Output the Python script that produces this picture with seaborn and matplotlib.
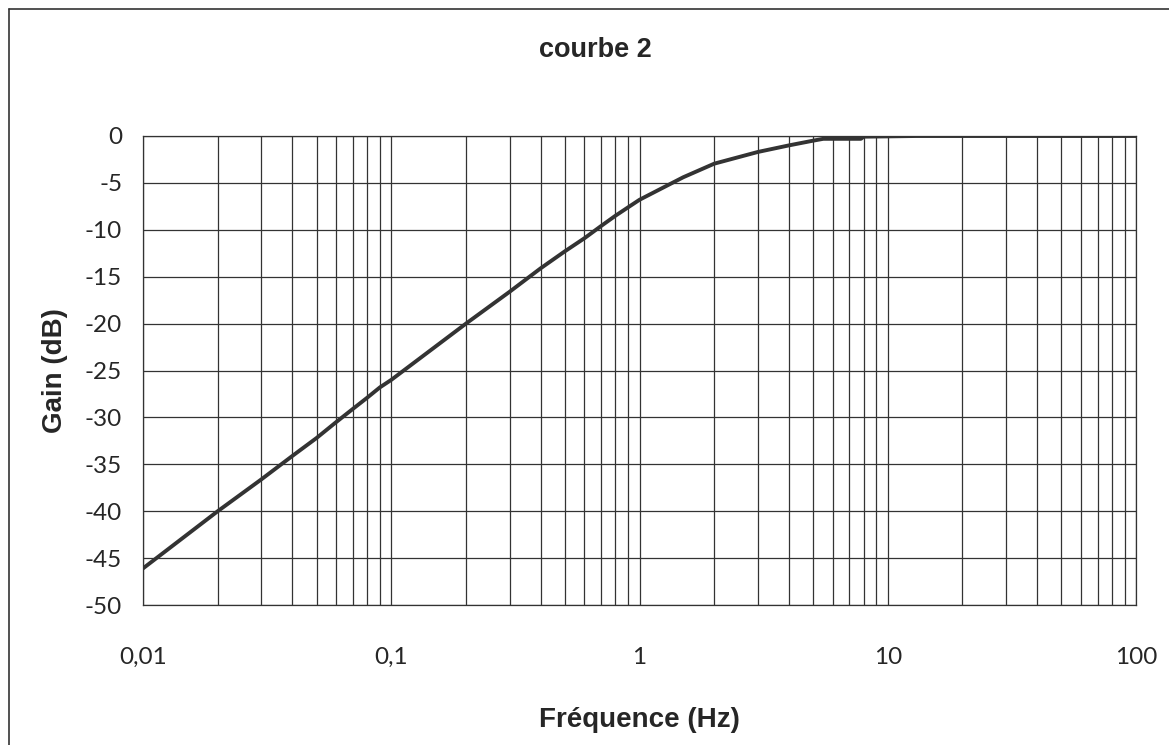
import matplotlib
matplotlib.use("Agg")
import matplotlib.pyplot as plt
from matplotlib.lines import Line2D
from matplotlib.ticker import FixedLocator, LogLocator, NullFormatter
import pandas as pd
import seaborn as sns

frequence = [0.01, 0.02, 0.03, 0.04, 0.05, 0.06, 0.07, 0.08, 0.09,
             0.1, 0.2, 0.3, 0.4, 0.5, 0.6, 0.7, 0.8, 0.9,
             1, 1.5, 2, 3, 4, 5, 5.5, 7.8, 8, 10, 13, 20, 50, 100]
gain = [-46.1, -40.0, -36.6, -34.1, -32.2, -30.5, -29.1, -27.9, -26.8,
        -26.0, -20.0, -16.6, -14.1, -12.3, -10.9, -9.6, -8.5, -7.6,
        -6.8, -4.4, -2.95, -1.7, -1.0, -0.5, -0.3, -0.3, -0.07, -0.04, 0.0, 0.0, 0.0, 0.0]

x_ticks = [0.01, 0.1, 1, 10, 100]
x_labels = ["0,01", "0,1", "1", "10", "100"]
y_ticks = [0, -5, -10, -15, -20, -25, -30, -35, -40, -45, -50]

df = pd.DataFrame({"frequence": frequence, "gain": gain})

sns.set_style("white")
plt.rcParams["font.family"] = ["Liberation Sans", "DejaVu Sans"]

fig = plt.figure(figsize=(11.69, 7.45), dpi=100)
ax = fig.add_axes([143 / 1169, 1 - 605 / 745, 993 / 1169, 469 / 745])

sns.lineplot(data=df, x="frequence", y="gain", ax=ax, color="#333333",
             linewidth=2.8, zorder=5)

ax.set_xscale("log")
ax.set_xlim(0.01, 100)
ax.set_ylim(-50, 0)

ax.xaxis.set_major_locator(FixedLocator(x_ticks))
ax.set_xticklabels(x_labels)
ax.xaxis.set_minor_locator(LogLocator(base=10, subs=range(2, 10), numticks=20))
ax.xaxis.set_minor_formatter(NullFormatter())
ax.set_yticks(y_ticks)
ax.set_yticklabels([str(v) for v in y_ticks])

ax.grid(True, which="both", axis="x", color="#333333", linewidth=0.9)
ax.grid(True, which="major", axis="y", color="#333333", linewidth=0.9)
for s in ax.spines.values():
    s.set_color("#333333")
    s.set_linewidth(0.9)

ax.tick_params(axis="x", which="both", length=0, pad=30)
ax.tick_params(axis="y", length=7, width=0.9, color="#333333", pad=8, direction="out")
for lab in ax.get_xticklabels() + ax.get_yticklabels():
    lab.set_fontfamily(["Lato", "DejaVu Sans"])
    lab.set_fontsize(17.5)

ax.set_xlabel("Fréquence (Hz)", fontsize=20, fontweight="bold", labelpad=28)
ax.set_ylabel("Gain (dB)", fontsize=20, fontweight="bold", labelpad=12)
fig.text(595 / 1169, 1 - 50 / 745, "courbe 2", fontsize=19.5, fontweight="bold",
         ha="center", va="center")

# cadre du graphique
fig.add_artist(Line2D([9 / 1169, 9 / 1169], [0, 1 - 9 / 745], color="#333333", linewidth=1.2))
fig.add_artist(Line2D([9 / 1169, 1], [1 - 9 / 745, 1 - 9 / 745], color="#333333", linewidth=1.2))

fig.savefig("out.png", dpi=100)
